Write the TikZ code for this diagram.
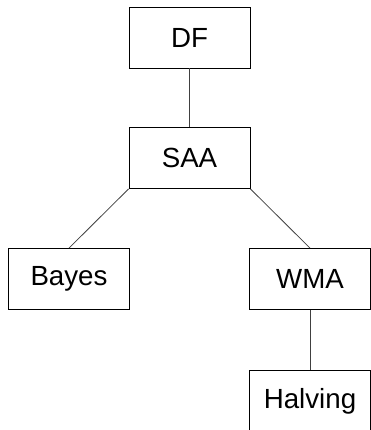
\documentclass[tikz,border=0pt]{standalone}
\usepackage{fontspec}
\setmainfont{Liberation Sans}
\tikzset{
	algbox/.style={draw, line width=0.8pt, minimum width=121pt, minimum height=61pt,
		inner sep=0pt, font=\fontsize{27.7}{33}\selectfont},
	treeedge/.style={line width=0.8pt, draw=black!75}
}
\begin{document}
\begin{tikzpicture}[x=1pt, y=1pt]
		\useasboundingbox (0, 0) rectangle (370, 430);
		\node[algbox] (DF) at (189.5, 392.5) {DF};
		\node[algbox] (SAA) at (189.5, 272) {SAA};
		\node[algbox] (Bayes) at (69, 151) {Bayes};
		\node[algbox] (WMA) at (310, 151) {WMA};
		\node[algbox] (Halving) at (310, 29) {Halving};
		\draw[treeedge] (DF) -- (SAA);
		\draw[treeedge] (SAA.south west) -- (Bayes.north);
		\draw[treeedge] (SAA.south east) -- (WMA.north);
		\draw[treeedge] (WMA) -- (Halving);
	\end{tikzpicture}
\end{document}
